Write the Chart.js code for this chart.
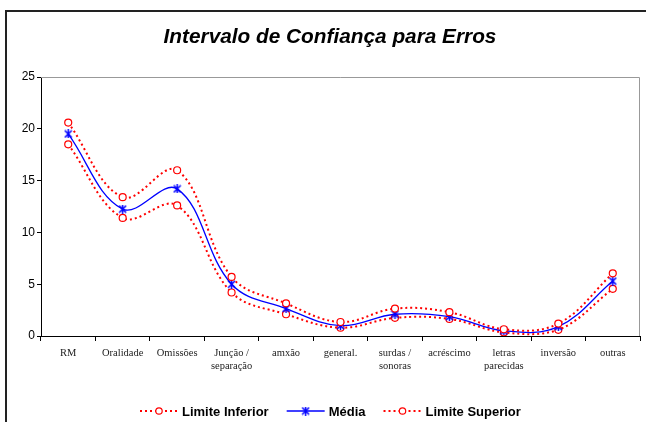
<!DOCTYPE html>
<html>
<head>
<meta charset="utf-8">
<script src="https://cdn.jsdelivr.net/npm/chart.js@4.4.0/dist/chart.umd.min.js"></script>
<style>
  html, body { margin: 0; padding: 0; background: #fff; }
  canvas { display: block; }
</style>
</head>
<body>
<canvas id="c" width="646" height="422"></canvas>
<script>
const categories = ["RM", "Oralidade", "Omissões", ["Junção /", "separação"], "amxão", "general.",
  ["surdas /", "sonoras"], "acréscimo", ["letras", "parecidas"], "inversão", "outras"];
const limiteInferior = [18.5, 11.4, 12.6, 4.2, 2.1, 0.8, 1.75, 1.65, 0.35, 0.6, 4.55];
const media          = [19.5, 12.25, 14.2, 5.0, 2.65, 1.0, 2.1, 1.87, 0.5, 0.9, 5.3];
const limiteSuperior = [20.6, 13.4, 16.0, 5.7, 3.15, 1.35, 2.65, 2.3, 0.65, 1.2, 6.05];
const seriesNames = ["Limite Inferior", "Média", "Limite Superior"];
const yTicks = [0, 5, 10, 15, 20, 25];

const RED = "#ff0000", BLUE = "#0000ff";

function starMarker(size, color) {
  const cv = document.createElement("canvas");
  cv.width = size; cv.height = size;
  const g = cv.getContext("2d");
  g.strokeStyle = color; g.lineWidth = 1.5;
  g.beginPath();
  g.moveTo(1, 1); g.lineTo(size - 1, size - 1);
  g.moveTo(size - 1, 1); g.lineTo(1, size - 1);
  g.moveTo(size / 2, 0); g.lineTo(size / 2, size);
  g.stroke();
  return cv;
}
const star = starMarker(9, BLUE);

const decor = {
  id: "decor",
  beforeDraw(chart) {
    const ctx = chart.ctx;
    ctx.save();
    ctx.fillStyle = "#fff";
    ctx.fillRect(0, 0, chart.width, chart.height);
    ctx.restore();
  },
  afterDraw(chart) {
    const ctx = chart.ctx, a = chart.chartArea;
    ctx.save();
    // outer frame
    ctx.strokeStyle = "#222"; ctx.lineWidth = 2;
    ctx.beginPath();
    ctx.moveTo(6, 422); ctx.lineTo(6, 11); ctx.lineTo(646, 11);
    ctx.stroke();
    // plot area top/right border
    ctx.strokeStyle = "#999"; ctx.lineWidth = 1;
    ctx.beginPath();
    ctx.moveTo(a.left, a.top + 0.5); ctx.lineTo(a.right - 0.5, a.top + 0.5); ctx.lineTo(a.right - 0.5, a.bottom);
    ctx.stroke();
    // title
    ctx.fillStyle = "#000";
    ctx.font = "italic bold 20.8px 'Liberation Sans', Arial, sans-serif";
    ctx.textAlign = "center"; ctx.textBaseline = "middle";
    ctx.fillText("Intervalo de Confiança para Erros", 330, 37);
    // legend
    ctx.font = "bold 13px 'Liberation Sans', Arial, sans-serif";
    ctx.textAlign = "left";
    const ly = 411;
    let x = 140;
    seriesNames.forEach((name, i) => {
      const ds = chart.data.datasets[i];
      ctx.save();
      ctx.strokeStyle = ds.borderColor; ctx.lineWidth = ds.borderWidth;
      ctx.setLineDash(ds.borderDash || []);
      ctx.beginPath(); ctx.moveTo(x, ly); ctx.lineTo(x + 38, ly); ctx.stroke();
      ctx.restore();
      const cx = x + 19;
      if (i === 1) {
        ctx.drawImage(star, cx - 4.5, ly - 4.5);
      } else {
        ctx.save();
        ctx.beginPath(); ctx.arc(cx, ly, 3.2, 0, Math.PI * 2);
        ctx.fillStyle = "#fff"; ctx.fill();
        ctx.strokeStyle = RED; ctx.lineWidth = 1.2; ctx.stroke();
        ctx.restore();
      }
      ctx.fillStyle = "#000";
      ctx.fillText(name, x + 42, ly + 1);
      x += 42 + ctx.measureText(name).width + 18;
    });
    ctx.restore();
  }
};

new Chart(document.getElementById("c"), {
  type: "line",
  data: {
    labels: categories,
    datasets: [
      {
        label: seriesNames[0], data: limiteInferior, order: 3,
        borderColor: RED, borderWidth: 2, borderDash: [2, 3],
        pointStyle: "circle", pointRadius: 3.5, pointBorderWidth: 1.2,
        pointBorderColor: RED, pointBackgroundColor: "#fff", tension: 0.38, fill: false
      },
      {
        label: seriesNames[1], data: media, order: 2,
        borderColor: BLUE, borderWidth: 1.3,
        pointStyle: star, pointRadius: 4.5,
        tension: 0.38, fill: false
      },
      {
        label: seriesNames[2], data: limiteSuperior, order: 1,
        borderColor: RED, borderWidth: 2, borderDash: [2, 3],
        pointStyle: "circle", pointRadius: 3.5, pointBorderWidth: 1.2,
        pointBorderColor: RED, pointBackgroundColor: "#fff", tension: 0.38, fill: false
      }
    ]
  },
  options: {
    responsive: false,
    animation: false,
    devicePixelRatio: 1,
    layout: { padding: { top: 77, left: 0, right: 6, bottom: 36 } },
    plugins: { legend: { display: false }, title: { display: false }, tooltip: { enabled: false } },
    scales: {
      x: {
        offset: true,
        grid: { offset: true, drawOnChartArea: false, drawTicks: true, tickLength: 5, color: "#000" },
        border: { display: true, color: "#000", width: 1 },
        ticks: {
          autoSkip: false, maxRotation: 0, minRotation: 0, padding: 6,
          color: "#222", font: { family: "'Liberation Serif', 'Times New Roman', serif", size: 10.5 }
        },
        afterFit(s) { s.height = 50; }
      },
      y: {
        min: 0, max: 25,
        afterBuildTicks(s) { s.ticks = yTicks.map(v => ({ value: v })); },
        grid: { drawOnChartArea: false, drawTicks: true, tickLength: 4, color: "#000" },
        border: { display: true, color: "#000", width: 1 },
        ticks: {
          padding: 2, color: "#000",
          font: { family: "'Liberation Sans', Arial, sans-serif", size: 12 }
        },
        afterFit(s) { s.width = 41; }
      }
    }
  },
  plugins: [decor]
});
</script>
</body>
</html>
